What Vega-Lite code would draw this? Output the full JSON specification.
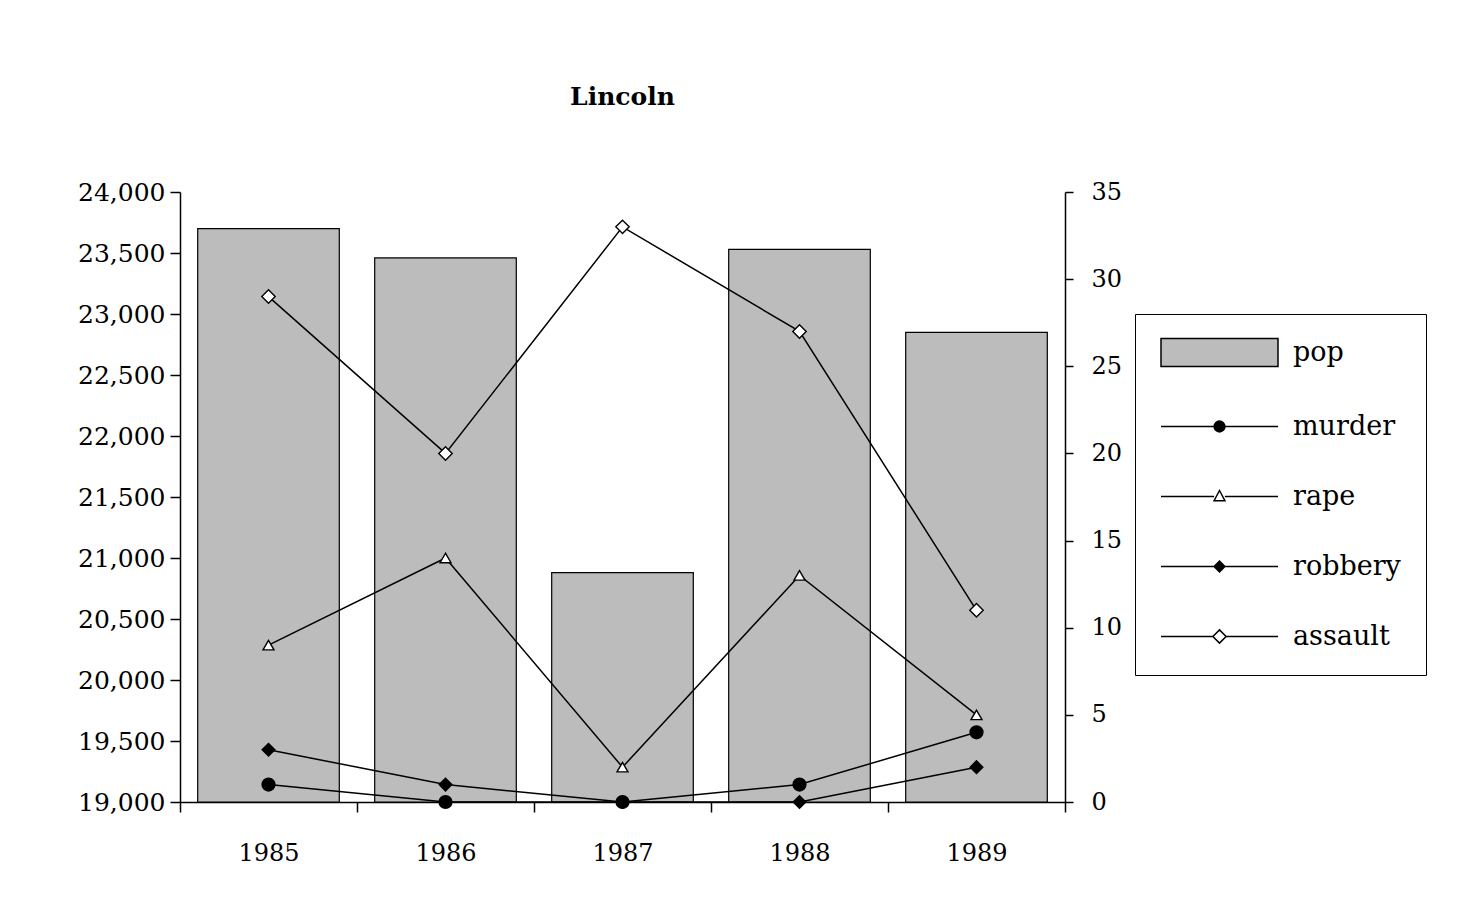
{
  "$schema": "https://vega.github.io/schema/vega-lite/v6.json",
  "width": 885,
  "height": 610,
  "autosize": {"type": "none"},
  "padding": {"left": 180, "top": 192, "right": 398, "bottom": 112},
  "background": "white",
  "title": {"text": "Lincoln", "font": "DejaVu Serif", "fontSize": 25, "fontWeight": "bold", "color": "black", "anchor": "middle", "frame": "group", "offset": 45, "baseline": "bottom"},
  "datasets": {
    "pop": [
      {"year": 1985, "pop": 23700},
      {"year": 1986, "pop": 23460},
      {"year": 1987, "pop": 20880},
      {"year": 1988, "pop": 23530},
      {"year": 1989, "pop": 22850}
    ],
    "crime": [
      {"year": 1985, "series": "murder", "value": 1},
      {"year": 1986, "series": "murder", "value": 0},
      {"year": 1987, "series": "murder", "value": 0},
      {"year": 1988, "series": "murder", "value": 1},
      {"year": 1989, "series": "murder", "value": 4},
      {"year": 1985, "series": "rape", "value": 9},
      {"year": 1986, "series": "rape", "value": 14},
      {"year": 1987, "series": "rape", "value": 2},
      {"year": 1988, "series": "rape", "value": 13},
      {"year": 1989, "series": "rape", "value": 5},
      {"year": 1985, "series": "robbery", "value": 3},
      {"year": 1986, "series": "robbery", "value": 1},
      {"year": 1987, "series": "robbery", "value": 0},
      {"year": 1988, "series": "robbery", "value": 0},
      {"year": 1989, "series": "robbery", "value": 2},
      {"year": 1985, "series": "assault", "value": 29},
      {"year": 1986, "series": "assault", "value": 20},
      {"year": 1987, "series": "assault", "value": 33},
      {"year": 1988, "series": "assault", "value": 27},
      {"year": 1989, "series": "assault", "value": 11}
    ]
  },
  "config": {
    "view": {"stroke": null},
    "font": "DejaVu Serif",
    "axis": {"labelFont": "DejaVu Serif", "labelFontSize": 24, "labelColor": "black", "domainColor": "black", "tickColor": "black", "domainWidth": 1.5, "tickWidth": 1.5, "grid": false, "title": null}
  },
  "layer": [
    {
      "data": {"name": "pop"},
      "mark": {"type": "bar", "fill": "#bcbcbc", "stroke": "black", "strokeWidth": 1.2, "width": {"band": 0.8}},
      "encoding": {
        "x": {"field": "year", "type": "ordinal", "scale": {"paddingInner": 0, "paddingOuter": 0}, "axis": {"labelAngle": 0, "tickBand": "extent", "tickSize": 10, "labelPadding": 29, "title": null}},
        "y": {"field": "pop", "type": "quantitative", "scale": {"domain": [19000, 24000], "zero": false, "nice": false}, "axis": {"values": [19000, 19500, 20000, 20500, 21000, 21500, 22000, 22500, 23000, 23500, 24000], "labelExpr": "format(datum.value, ',')", "labelFontSize": 25, "tickSize": 10, "labelPadding": 5, "title": null}},
        "y2": {"datum": 19000}
      }
    },
    {
      "data": {"name": "crime"},
      "encoding": {
        "x": {"field": "year", "type": "ordinal"},
        "y": {"field": "value", "type": "quantitative", "scale": {"domain": [0, 35], "nice": false}, "axis": {"orient": "right", "values": [0, 5, 10, 15, 20, 25, 30, 35], "tickSize": 8, "labelPadding": 18, "title": null}}
      },
      "layer": [
        {"mark": {"type": "line", "stroke": "black", "strokeWidth": 1.5}, "encoding": {"detail": {"field": "series"}}},
        {"transform": [{"filter": "datum.series === 'murder'"}], "mark": {"type": "point", "shape": "circle", "filled": true, "fill": "black", "stroke": "black", "size": 150, "opacity": 1}},
        {"transform": [{"filter": "datum.series === 'rape'"}], "mark": {"type": "point", "shape": "triangle-up", "filled": true, "fill": "white", "stroke": "black", "strokeWidth": 1.4, "size": 120, "opacity": 1}},
        {"transform": [{"filter": "datum.series === 'robbery'"}], "mark": {"type": "point", "shape": "diamond", "filled": true, "fill": "black", "stroke": "black", "size": 140, "opacity": 1}},
        {"transform": [{"filter": "datum.series === 'assault'"}], "mark": {"type": "point", "shape": "diamond", "filled": true, "fill": "white", "stroke": "black", "strokeWidth": 1.4, "size": 180, "opacity": 1}},
        {
          "transform": [{"filter": "datum.value < 0"}],
          "mark": {"type": "point", "strokeWidth": 1.5, "opacity": 1},
          "encoding": {
            "shape": {
              "field": "series", "type": "nominal",
              "scale": {
                "domain": ["pop", "murder", "rape", "robbery", "assault"],
                "range": [
                  "M-4.875,-1.17H4.875V1.17H-4.875Z",
                  "M-4.875,0H-0.45M0.45,0H4.875M0.45,0A0.45,0.45 0 1,1 -0.45,0A0.45,0.45 0 1,1 0.45,0Z",
                  "M-4.875,0H-0.45M0.45,0H4.875M0,-0.5L0.45,0.35H-0.45Z",
                  "M-4.875,0H-0.45M0.45,0H4.875M0,-0.45L0.45,0L0,0.45L-0.45,0Z",
                  "M-4.875,0H-0.55M0.55,0H4.875M0,-0.55L0.55,0L0,0.55L-0.55,0Z"
                ]
              },
              "legend": {"orient": "none", "legendX": 955, "legendY": 122, "title": null, "symbolSize": 576, "symbolOffset": 46, "labelOffset": 60, "rowPadding": 42, "padding": 25, "strokeColor": "black", "fillColor": "white", "labelFont": "DejaVu Serif", "labelFontSize": 27, "labelColor": "black", "symbolStrokeWidth": 1.5, "symbolOpacity": 1}
            },
            "fill": {
              "field": "series", "type": "nominal",
              "scale": {"domain": ["pop", "murder", "rape", "robbery", "assault"], "range": ["#bcbcbc", "black", "white", "black", "white"]},
              "legend": {"orient": "none", "legendX": 955, "legendY": 122, "title": null, "symbolSize": 576, "symbolOffset": 46, "labelOffset": 60, "rowPadding": 42, "padding": 25, "strokeColor": "black", "fillColor": "white", "labelFont": "DejaVu Serif", "labelFontSize": 27, "labelColor": "black", "symbolStrokeWidth": 1.5, "symbolOpacity": 1}
            },
            "stroke": {
              "field": "series", "type": "nominal",
              "scale": {"domain": ["pop", "murder", "rape", "robbery", "assault"], "range": ["black", "black", "black", "black", "black"]},
              "legend": {"orient": "none", "legendX": 955, "legendY": 122, "title": null, "symbolSize": 576, "symbolOffset": 46, "labelOffset": 60, "rowPadding": 42, "padding": 25, "strokeColor": "black", "fillColor": "white", "labelFont": "DejaVu Serif", "labelFontSize": 27, "labelColor": "black", "symbolStrokeWidth": 1.5, "symbolOpacity": 1}
            }
          }
        }
      ]
    }
  ],
  "resolve": {"scale": {"y": "independent"}}
}
